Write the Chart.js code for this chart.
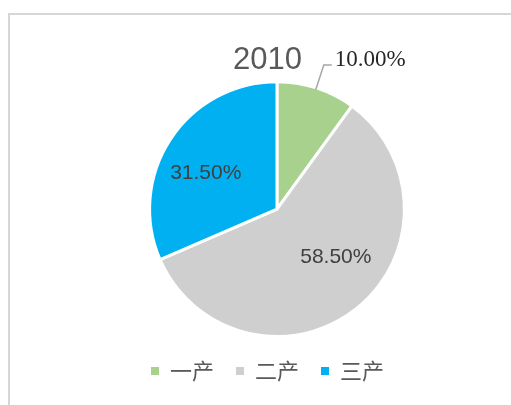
<!DOCTYPE html>
<html>
<head>
<meta charset="utf-8">
<script src="https://cdn.jsdelivr.net/npm/chart.js@4"></script>
<style>
  html, body { margin: 0; padding: 0; background: #fff; }
  #frame {
    position: absolute; left: 8px; top: 13px; right: 0; bottom: 0;
    border-top: 2px solid #d6d6d6; border-left: 2px solid #d6d6d6;
  }
  #wrap { position: absolute; left: 0; top: 0; width: 511px; height: 405px; }
</style>
</head>
<body>
<div id="frame"></div>
<div id="wrap"><canvas id="pieChart" width="511" height="405"></canvas></div>
<script>
const categories = ["一产", "二产", "三产"];
const shares = [10.0, 58.5, 31.5];
const sliceColors = ["#a9d18e", "#cfcfcf", "#00b0f0"];
const chartTitle = "2010";

// shift the pie right of the title/legend centre
const shiftArea = {
    id: "shiftArea",
    afterLayout(chart, args, opts) {
        chart.chartArea.left += opts.dx;
        chart.chartArea.right += opts.dx;
    }
};

const sliceLabels = {
    id: "sliceLabels",
    afterDatasetsDraw(chart, args, opts) {
        let ctx = chart.ctx;
        let meta = chart.getDatasetMeta(0);
        meta.data.forEach(function (arc, i) {
            let text = shares[i].toFixed(2) + "%";
            let p = arc.getProps(["x", "y", "startAngle", "endAngle", "outerRadius"], true);
            let mid = (p.startAngle + p.endAngle) / 2;
            ctx.save();
            if (opts.outside.includes(i)) {
                let r0 = p.outerRadius - 2;
                let r1 = p.outerRadius + 24;
                let x0 = p.x + Math.cos(mid) * r0, y0 = p.y + Math.sin(mid) * r0;
                let x1 = p.x + Math.cos(mid) * r1, y1 = p.y + Math.sin(mid) * r1;
                ctx.strokeStyle = "#a6a6a6";
                ctx.lineWidth = 1.5;
                ctx.beginPath();
                ctx.moveTo(x0, y0);
                ctx.lineTo(x1, y1);
                ctx.lineTo(x1 + 8, y1);
                ctx.stroke();
                ctx.fillStyle = "#262626";
                ctx.font = "23px 'Liberation Serif'";
                ctx.textAlign = "left";
                ctx.textBaseline = "alphabetic";
                ctx.fillText(text, x1 + 11, y1 + 1);
            } else {
                let c = arc.tooltipPosition(true);
                let off = opts.offsets[i] || [0, 0];
                ctx.fillStyle = "#404040";
                ctx.font = "21px 'Liberation Sans'";
                ctx.textAlign = "center";
                ctx.textBaseline = "middle";
                ctx.fillText(text, c.x + off[0], c.y + off[1]);
            }
            ctx.restore();
        });
    }
};

document.addEventListener("DOMContentLoaded", function () {
    let ctx = document.getElementById("pieChart").getContext("2d");

    new Chart(ctx, {
        type: "pie",
        data: {
            labels: categories,
            datasets: [{
                data: shares,
                backgroundColor: sliceColors,
                borderColor: "#ffffff",
                borderWidth: 3
            }]
        },
        options: {
            responsive: false,
            animation: false,
            layout: { padding: { top: 30, bottom: 13, left: 24, right: 0 } },
            plugins: {
                title: {
                    display: true,
                    text: chartTitle,
                    color: "#595959",
                    font: { family: "'Liberation Sans'", size: 31, weight: "normal" },
                    padding: { top: 12, bottom: 1 }
                },
                legend: {
                    position: "bottom",
                    labels: {
                        usePointStyle: true,
                        pointStyle: "rect",
                        boxWidth: 8,
                        boxHeight: 8,
                        padding: 22,
                        color: "#595959",
                        font: { family: "'Noto Sans CJK SC'", size: 22 },
                        generateLabels: function (chart) {
                            let items = Chart.overrides.pie.plugins.legend.labels.generateLabels(chart);
                            return items.map(function (it) { it.lineWidth = 0; return it; });
                        }
                    }
                },
                tooltip: { enabled: false },
                shiftArea: { dx: 9.5 },
                sliceLabels: { outside: [0], offsets: { 1: [19, -2], 2: [-18, -1] } }
            }
        },
        plugins: [shiftArea, sliceLabels]
    });
});
</script>
</body>
</html>
